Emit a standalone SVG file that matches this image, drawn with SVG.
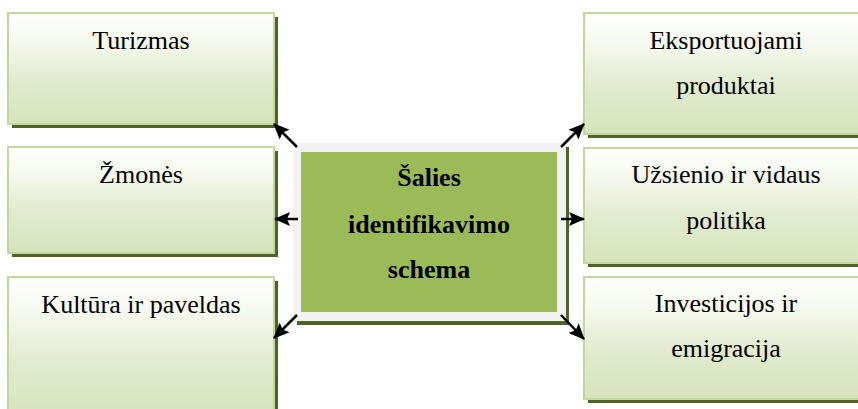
<svg xmlns="http://www.w3.org/2000/svg" width="858" height="409" viewBox="0 0 858 409">
  <defs>
    <linearGradient id="boxFill" x1="0" y1="0" x2="0" y2="1">
      <stop offset="0" stop-color="#ffffff"/>
      <stop offset="0.3" stop-color="#f3f7ea"/>
      <stop offset="0.6" stop-color="#e2ebcf"/>
      <stop offset="1" stop-color="#d6e3bc"/>
    </linearGradient>
    <marker id="arrow" viewBox="0 0 16 14" refX="15" refY="7" markerWidth="16" markerHeight="14" orient="auto" markerUnits="userSpaceOnUse">
      <path d="M0,0 L16,7 L0,14 L3,7 Z" fill="#000"/>
    </marker>
    <style>
      .shadow { fill: #4f6228; }
      .box { fill: url(#boxFill); stroke: #c3d69b; stroke-width: 2; }
      text { font-family: 'Liberation Serif', 'DejaVu Serif', serif; font-size: 26px; fill: #000; text-anchor: middle; }
      .title { font-weight: bold; }
      .conn { stroke: #000; stroke-width: 2.5; fill: none; marker-end: url(#arrow); }
    </style>
  </defs>

  <rect width="858" height="409" fill="#ffffff"/>

  <!-- left column -->
  <g id="turizmas">
    <rect class="shadow" x="12" y="17" width="266" height="111"/>
    <rect class="box" x="8" y="13" width="266" height="111"/>
    <text x="141" y="49">Turizmas</text>
  </g>
  <g id="zmones">
    <rect class="shadow" x="12" y="151" width="266" height="106"/>
    <rect class="box" x="8" y="147" width="266" height="106"/>
    <text x="141" y="183">Žmonės</text>
  </g>
  <g id="kultura">
    <rect class="shadow" x="12" y="281" width="266" height="140"/>
    <rect class="box" x="8" y="277" width="266" height="140"/>
    <text x="141" y="313">Kultūra ir paveldas</text>
  </g>

  <!-- right column -->
  <g id="eksportuojami">
    <rect class="shadow" x="588" y="17" width="284" height="121"/>
    <rect class="box" x="584" y="13" width="284" height="121"/>
    <text x="726" y="49">Eksportuojami</text>
    <text x="726" y="94">produktai</text>
  </g>
  <g id="politika">
    <rect class="shadow" x="588" y="152" width="284" height="115"/>
    <rect class="box" x="584" y="148" width="284" height="115"/>
    <text x="726" y="183">Užsienio ir vidaus</text>
    <text x="726" y="229">politika</text>
  </g>
  <g id="investicijos">
    <rect class="shadow" x="588" y="281" width="284" height="122"/>
    <rect class="box" x="584" y="277" width="284" height="122"/>
    <text x="726" y="312">Investicijos ir</text>
    <text x="726" y="357">emigracija</text>
  </g>

  <!-- central node -->
  <g id="schema">
    <rect class="shadow" x="297" y="147" width="272" height="178"/>
    <rect x="293" y="143" width="273" height="178" fill="#f2f2f2"/>
    <rect x="301" y="152" width="256" height="160" fill="#9bbb59"/>
    <text class="title" x="429" y="186">Šalies</text>
    <text class="title" x="429" y="233">identifikavimo</text>
    <text class="title" x="429" y="278">schema</text>
  </g>

  <!-- connectors -->
  <g id="connectors">
    <line class="conn" x1="297" y1="147" x2="274" y2="124"/>
    <line class="conn" x1="298" y1="219" x2="275" y2="219"/>
    <line class="conn" x1="297" y1="315" x2="274" y2="338"/>
    <line class="conn" x1="561" y1="147" x2="584" y2="124"/>
    <line class="conn" x1="561" y1="219" x2="584" y2="219"/>
    <line class="conn" x1="561" y1="315" x2="584" y2="339"/>
  </g>
</svg>
